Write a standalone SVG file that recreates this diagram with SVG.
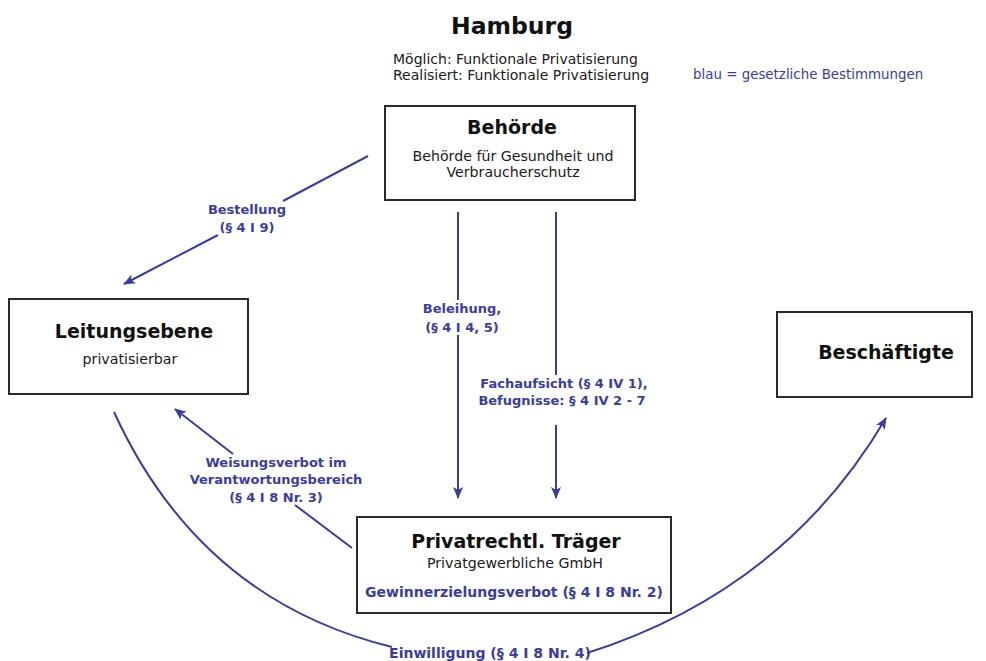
<svg xmlns="http://www.w3.org/2000/svg" width="986" height="661" viewBox="0 0 986 661">
  <style>
    text { font-family: "DejaVu Sans", "Liberation Sans", sans-serif; }
    .box { fill: #ffffff; stroke: #2a2a2a; stroke-width: 2; }
    .title { font-size: 19px; font-weight: bold; fill: #111111; text-anchor: middle; }
    .body { font-size: 14px; fill: #1a1a1a; }
    .inner { font-size: 14.2px; fill: #1a1a1a; text-anchor: middle; }
    .law { font-size: 13px; font-weight: bold; fill: #3c3c9c; text-anchor: middle; }
    .edge { fill: none; stroke: #3c3c9c; stroke-width: 2; }
  </style>
  <defs>
    <marker id="arrow" viewBox="0 0 12 10" refX="11" refY="5" markerWidth="12" markerHeight="10" markerUnits="userSpaceOnUse" orient="auto">
      <path d="M0,0 L12,5 L0,10 L3,5 z" fill="#3c3c9c"/>
    </marker>
  </defs>
  <rect width="986" height="661" fill="#ffffff"/>

  <!-- heading -->
  <g id="heading">
    <text x="512" y="34" style="font-size:23.5px;font-weight:bold;fill:#111" text-anchor="middle">Hamburg</text>
    <text x="393" y="64" class="body">Möglich: Funktionale Privatisierung</text>
    <text x="393" y="80" class="body">Realisiert: Funktionale Privatisierung</text>
    <text x="693" y="79" class="body" style="font-size:13.4px;fill:#3c3c9c">blau = gesetzliche Bestimmungen</text>
  </g>

  <!-- connectors -->
  <g id="connectors">
    <!-- Bestellung -->
    <path class="edge" d="M368,156 L283,201"/>
    <path class="edge" d="M218,235 L124,284" marker-end="url(#arrow)"/>
    <!-- Beleihung -->
    <path class="edge" d="M458,212 L458,300"/>
    <path class="edge" d="M458,335 L458,498" marker-end="url(#arrow)"/>
    <!-- Fachaufsicht -->
    <path class="edge" d="M556,212 L556,375"/>
    <path class="edge" d="M556,425 L556,498" marker-end="url(#arrow)"/>
    <!-- Weisungsverbot -->
    <path class="edge" d="M352,548 L295,505"/>
    <path class="edge" d="M233,454 L175,409" marker-end="url(#arrow)"/>
    <!-- Einwilligung -->
    <path class="edge" d="M114,412 Q200,600 392,647"/>
    <path class="edge" d="M587,653 Q785,590 886,418" marker-end="url(#arrow)"/>

    <text x="247" y="214" class="law">Bestellung</text>
    <text x="247" y="232" class="law">(§ 4 I 9)</text>
    <text x="462" y="313" class="law">Beleihung,</text>
    <text x="462" y="332" class="law">(§ 4 I 4, 5)</text>
    <text x="564" y="388" class="law">Fachaufsicht (§ 4 IV 1),</text>
    <text x="562" y="405" class="law">Befugnisse: § 4 IV 2 - 7</text>
    <text x="276" y="467" class="law">Weisungsverbot im</text>
    <text x="276" y="484" class="law">Verantwortungsbereich</text>
    <text x="276" y="502" class="law">(§ 4 I 8 Nr. 3)</text>
    <text x="490" y="658" class="law" style="font-size:14px">Einwilligung (§ 4 I 8 Nr. 4)</text>
  </g>

  <!-- nodes -->
  <g id="behoerde">
    <rect class="box" x="385" y="106" width="250" height="94"/>
    <text x="512" y="134" class="title">Behörde</text>
    <text x="513" y="161" class="inner">Behörde für Gesundheit und</text>
    <text x="513" y="177" class="inner">Verbraucherschutz</text>
  </g>

  <g id="leitungsebene">
    <rect class="box" x="9" y="299" width="239" height="95"/>
    <text x="134" y="338" class="title">Leitungsebene</text>
    <text x="130" y="364" class="inner">privatisierbar</text>
  </g>

  <g id="beschaeftigte">
    <rect class="box" x="777" y="312" width="195" height="85"/>
    <text x="886" y="359" class="title">Beschäftigte</text>
  </g>

  <g id="traeger">
    <rect class="box" x="357" y="517" width="314" height="96"/>
    <text x="516" y="548" class="title">Privatrechtl. Träger</text>
    <text x="515" y="568" class="inner">Privatgewerbliche GmbH</text>
    <text x="514" y="597" class="law" style="font-size:14px">Gewinnerzielungsverbot (§ 4 I 8 Nr. 2)</text>
  </g>
</svg>
